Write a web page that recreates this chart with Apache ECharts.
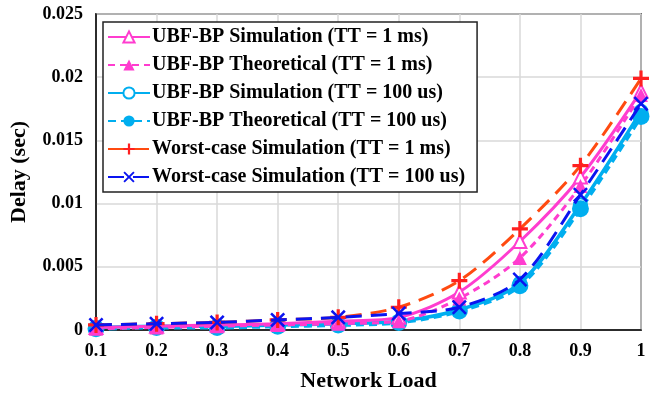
<!DOCTYPE html>
<html>
<head>
<meta charset="utf-8">
<script src="https://cdn.jsdelivr.net/npm/echarts@6/dist/echarts.min.js"></script>
<style>html,body{margin:0;padding:0;background:#fff;}#c{width:656px;height:397px;}</style>
</head>
<body>
<div id="c"></div>
<script>
const loads = ['0.1','0.2','0.3','0.4','0.5','0.6','0.7','0.8','0.9','1'];
const yTicks = [0, 0.005, 0.01, 0.015, 0.02, 0.025];
const ubfSim1ms   = [0.0002,0.0003,0.0004,0.0005,0.0007,0.0010,0.0030,0.0070,0.0121,0.0189];
const ubfTheo1ms  = [0.0001,0.0002,0.0003,0.0004,0.0005,0.0007,0.0025,0.0057,0.0114,0.0186];
const ubfSim100   = [0.0002,0.0003,0.0003,0.0004,0.0005,0.0007,0.0016,0.0037,0.0099,0.0173];
const ubfTheo100  = [0.0001,0.0002,0.0002,0.0003,0.0004,0.0006,0.0015,0.0035,0.0096,0.0169];
const worst1ms    = [0.0004,0.0005,0.0006,0.0008,0.0010,0.0018,0.0039,0.0080,0.0130,0.0199];
const worst100    = [0.0004,0.0005,0.0006,0.0008,0.0010,0.0013,0.0018,0.0040,0.0107,0.0179];
const names = [
  'UBF-BP Simulation (TT = 1 ms)',
  'UBF-BP Theoretical (TT = 1 ms)',
  'UBF-BP Simulation (TT = 100 us)',
  'UBF-BP Theoretical (TT = 100 us)',
  'Worst-case Simulation (TT = 1 ms)',
  'Worst-case Simulation (TT = 100 us)'
];
const PINK = '#FF3CCF', CYAN = '#00AEEF', RED = '#FF2020', ORANGE = '#FF4A10', BLUE = '#0A14F0';
const font = '"Liberation Serif","Times New Roman",serif';
const chart = echarts.init(document.getElementById('c'));
function plus(){ return 'path://M4,0 L6,0 L6,4 L10,4 L10,6 L6,6 L6,10 L4,10 L4,6 L0,6 L0,4 L4,4 Z'; }
function cross(){ return 'path://M1.2,0 L5,3.8 L8.8,0 L10,1.2 L6.2,5 L10,8.8 L8.8,10 L5,6.2 L1.2,10 L0,8.8 L3.8,5 L0,1.2 Z'; }
chart.setOption({
  animation: false,
  backgroundColor: '#fff',
  grid: {left: 96, right: 15, top: 14, bottom: 62, show: true, borderColor: '#000', borderWidth: 1.5},
  xAxis: {
    type: 'category', data: loads, boundaryGap: false,
    name: 'Network Load', nameLocation: 'middle', nameGap: 40,
    nameTextStyle: {fontFamily: font, fontWeight: 'bold', fontSize: 22, color: '#000'},
    axisLine: {lineStyle: {color: '#000', width: 1.5}},
    axisTick: {show: false},
    axisLabel: {fontFamily: font, fontWeight: 'bold', fontSize: 18, color: '#000', margin: 12},
    splitLine: {show: true, lineStyle: {color: '#D9D9D9', width: 1.5}}
  },
  yAxis: {
    type: 'value', min: 0, max: 0.025, interval: 0.005,
    name: 'Delay (sec)', nameLocation: 'middle', nameGap: 66, nameRotate: 90,
    nameTextStyle: {fontFamily: font, fontWeight: 'bold', fontSize: 22, color: '#000'},
    axisLine: {show: true, lineStyle: {color: '#000', width: 1.5}},
    axisTick: {show: false},
    axisLabel: {fontFamily: font, fontWeight: 'bold', fontSize: 18, color: '#000', margin: 13,
      formatter: v => { const t = yTicks.find(x => Math.abs(x - v) < 1e-9); return t === undefined ? '' : String(+t.toFixed(3)); }},
    splitLine: {show: true, lineStyle: {color: '#D9D9D9', width: 1.5}}
  },
  legend: {
    orient: 'vertical', left: 103, top: 22,
    backgroundColor: '#fff', borderColor: '#222', borderWidth: 1.5,
    padding: [5, 12, 5, 4], itemWidth: 42, itemHeight: 14, itemGap: 8,
    textStyle: {fontFamily: font, fontWeight: 'bold', fontSize: 20, color: '#000', padding: [0, 0, 0, -3]},
    data: names
  },
  series: [
    {name: names[0], type: 'line', data: ubfSim1ms, smooth: 0.3, clip: false,
     symbol: 'emptyTriangle', symbolSize: 13, itemStyle: {color: PINK, borderWidth: 2},
     lineStyle: {color: PINK, width: 3}, z: 3},
    {name: names[1], type: 'line', data: ubfTheo1ms, smooth: 0.3, clip: false,
     symbol: 'triangle', symbolSize: 14, itemStyle: {color: PINK},
     lineStyle: {color: PINK, width: 3, type: [7, 5]}, z: 3},
    {name: names[2], type: 'line', data: ubfSim100, smooth: 0.3, clip: false,
     symbol: 'emptyCircle', symbolSize: 13, itemStyle: {color: CYAN, borderWidth: 2},
     lineStyle: {color: CYAN, width: 3.5}, z: 2},
    {name: names[3], type: 'line', data: ubfTheo100, smooth: 0.3, clip: false,
     symbol: 'circle', symbolSize: 17, itemStyle: {color: CYAN},
     lineStyle: {color: CYAN, width: 4, type: [8, 5]}, z: 2},
    {name: names[4], type: 'line', data: worst1ms, smooth: 0.3, clip: false,
     symbol: plus(), symbolSize: 16, itemStyle: {color: RED},
     lineStyle: {color: ORANGE, width: 3, type: [16, 9]}, z: 4},
    {name: names[5], type: 'line', data: worst100, smooth: 0.3, clip: false,
     symbol: cross(), symbolSize: 15, itemStyle: {color: BLUE},
     lineStyle: {color: BLUE, width: 3, type: [16, 9]}, z: 5}
  ]
});
</script>
</body>
</html>
